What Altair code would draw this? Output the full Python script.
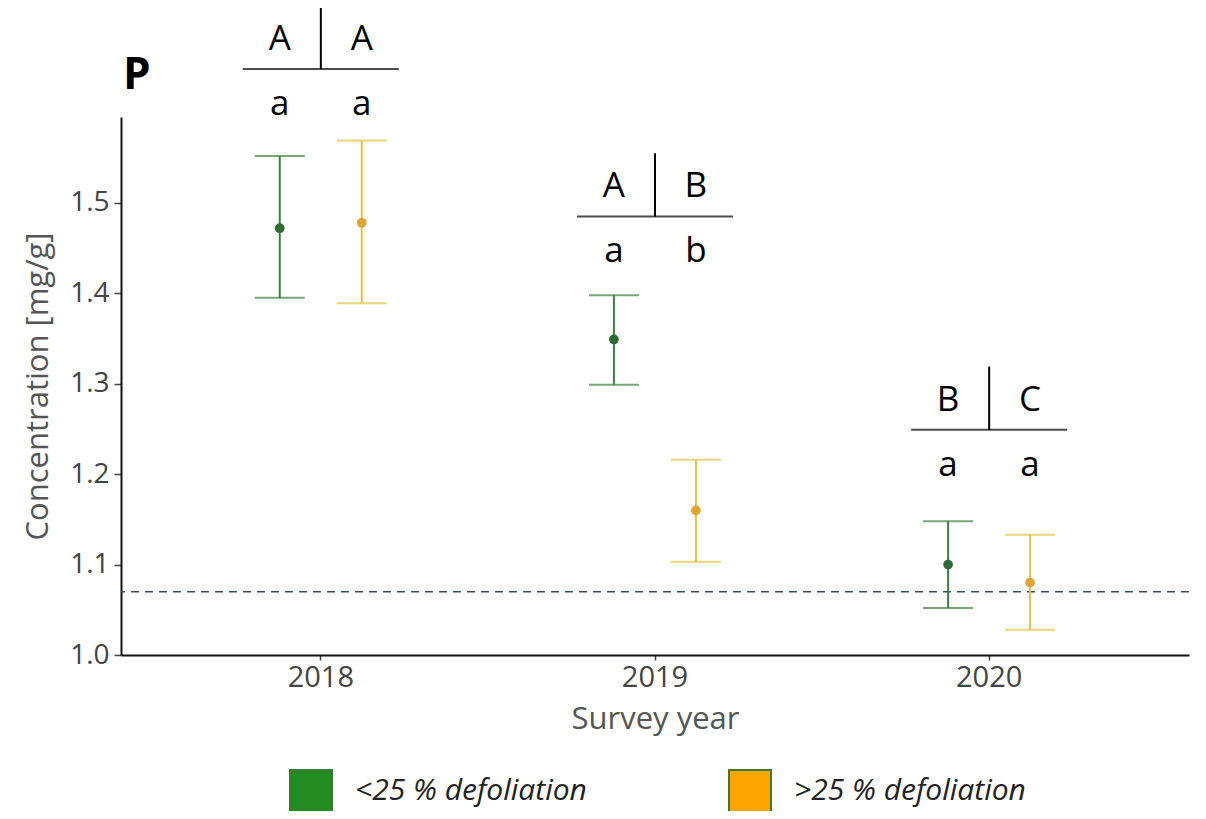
import altair as alt
import pandas as pd

# ---------------- data ----------------
years = ["2018", "2019", "2020"]
groups = ["<25 % defoliation", ">25 % defoliation"]

mean_low = [1.472, 1.349, 1.100]
lower_low = [1.395, 1.299, 1.052]
upper_low = [1.552, 1.398, 1.148]

mean_high = [1.478, 1.160, 1.080]
lower_high = [1.389, 1.103, 1.028]
upper_high = [1.569, 1.216, 1.133]

letters_upper_low = ["A", "A", "B"]
letters_upper_high = ["A", "B", "C"]
letters_lower_low = ["a", "a", "a"]
letters_lower_high = ["a", "b", "a"]

bracket_level = [1.648, 1.485, 1.249]
bracket_top = [1.718, 1.555, 1.319]

reference_level = [1.07]
y_ticks = [1.0, 1.1, 1.2, 1.3, 1.4, 1.5]
y_domain = [1.0, 1.595]

bar_colors = ["#3f7f42", "#e2c23e"]
point_colors = ["#2f6a35", "#e0a634"]
legend_colors = ["#228b22", "#ffa500"]

# ---------------- tables ----------------
rows = []
for i, yr in enumerate(years):
    rows.append(dict(year=yr, group=groups[0], mean=mean_low[i], lower=lower_low[i],
                     upper=upper_low[i], up=letters_upper_low[i], low=letters_lower_low[i],
                     level=bracket_level[i]))
    rows.append(dict(year=yr, group=groups[1], mean=mean_high[i], lower=lower_high[i],
                     upper=upper_high[i], up=letters_upper_high[i], low=letters_lower_high[i],
                     level=bracket_level[i]))
df = pd.DataFrame(rows)
br = pd.DataFrame(dict(year=years, level=bracket_level, top=bracket_top))
ref = pd.DataFrame(dict(ref=reference_level))

FONT = "Open Sans"

x_enc = alt.X(
    "year:N",
    scale=alt.Scale(domain=years, paddingOuter=0.098, paddingInner=0),
    axis=alt.Axis(
        title="Survey year", labelAngle=0, labelFontSize=29, labelColor="#444",
        labelFont=FONT, titleFont=FONT, titleFontSize=31, titleColor="#555",
        titleFontWeight="normal", domainColor="#111", domainWidth=2,
        tickColor="#444", tickSize=5, tickWidth=1.5, labelPadding=3, titlePadding=12,
        grid=False,
    ),
)
xo_enc = alt.XOffset("group:N", scale=alt.Scale(domain=groups, range=[85, 249]))
y_scale = alt.Scale(domain=y_domain, nice=False, zero=False)
y_axis = alt.Axis(
    values=y_ticks, format=".1f", title="Concentration [mg/g]", labelFontSize=28,
    labelColor="#444", labelFont=FONT, titleFont=FONT, titleFontSize=31,
    titleColor="#555", titleFontWeight="normal", domainColor="#111", domainWidth=2,
    tickColor="#444", tickSize=7, tickWidth=1.5, labelPadding=5, titlePadding=15,
    grid=False,
)

base = alt.Chart(df)

bar_color = alt.Color("group:N", scale=alt.Scale(domain=groups, range=bar_colors), legend=None)

whiskers = base.mark_rule(strokeWidth=2).encode(
    x=x_enc, xOffset=xo_enc,
    y=alt.Y("lower:Q", scale=y_scale, axis=y_axis), y2="upper:Q",
    color=bar_color,
)
caps_hi = base.mark_tick(size=50, thickness=2).encode(
    x=x_enc, xOffset=xo_enc, y=alt.Y("upper:Q"), color=bar_color)
caps_lo = base.mark_tick(size=50, thickness=2).encode(
    x=x_enc, xOffset=xo_enc, y=alt.Y("lower:Q"), color=bar_color)
bars = alt.layer(whiskers, caps_hi, caps_lo)

points = base.mark_circle(size=95, opacity=1).encode(
    x=x_enc, xOffset=xo_enc, y=alt.Y("mean:Q"),
    color=alt.Color("group:N", scale=alt.Scale(domain=groups, range=point_colors), legend=None),
)

legend_dummy = base.mark_square(opacity=0, size=10).encode(
    x=x_enc, xOffset=xo_enc, y=alt.Y("mean:Q"),
    color=alt.Color(
        "group:N", scale=alt.Scale(domain=groups, range=legend_colors),
        legend=alt.Legend(
            title=None, orient="none", direction="horizontal", legendX=168, legendY=652,
            symbolType="square", symbolSize=1764, symbolOpacity=1,
            symbolStrokeColor="#3c7a34", symbolStrokeWidth=2,
            labelFont=FONT, labelFontSize=30, labelFontStyle="italic", labelColor="#222",
            labelOffset=22, columnPadding=138, labelLimit=400,
        ),
    ),
)

ref_line = alt.Chart(ref).mark_rule(strokeDash=[8, 6], strokeWidth=1.5, color="#3d4a5c").encode(
    y=alt.Y("ref:Q"))

txt_up = base.mark_text(fontSize=35, font=FONT, color="black", baseline="alphabetic", dy=-19).encode(
    x=x_enc, xOffset=xo_enc, y=alt.Y("level:Q"), text="up:N")
txt_low = base.mark_text(fontSize=35, font=FONT, color="black", baseline="alphabetic", dy=46).encode(
    x=x_enc, xOffset=xo_enc, y=alt.Y("level:Q"), text="low:N")

br_h = alt.Chart(br).mark_tick(size=156, thickness=2, color="black").encode(
    x=x_enc, y=alt.Y("level:Q"))
br_v = alt.Chart(br).mark_rule(strokeWidth=2, color="black").encode(
    x=x_enc, y=alt.Y("level:Q"), y2="top:Q")

panel_label = alt.Chart(pd.DataFrame(dict(t=["P"]))).mark_text(
    fontSize=44, fontWeight="bold", font=FONT, color="black", align="left", baseline="alphabetic"
).encode(text="t:N", x=alt.value(2), y=alt.value(-28))

chart = alt.layer(
    ref_line, bars, points, legend_dummy, br_h, br_v, txt_up, txt_low, panel_label
).resolve_scale(color="independent").properties(
    width=1068, height=538,
    background="white",
    autosize=alt.AutoSizeParams(type="none"),
    padding={"left": 113, "top": 109, "right": 5, "bottom": 156},
).configure_view(stroke=None)

chart.save("out.html", embed_options={"renderer": "svg", "actions": False})
